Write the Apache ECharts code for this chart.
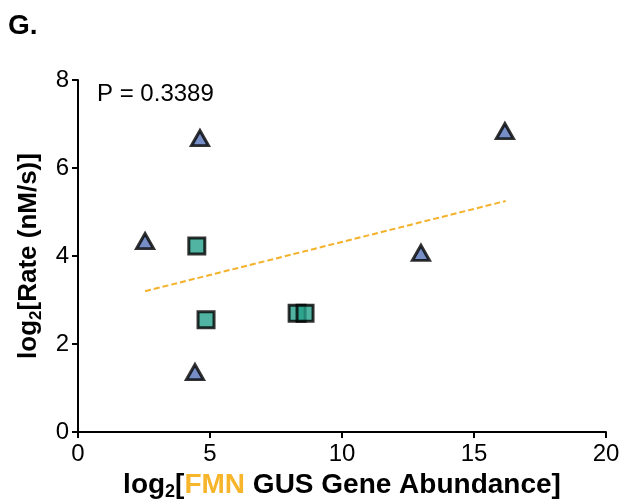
<!DOCTYPE html>
<html>
<head>
<meta charset="utf-8">
<script src="https://cdn.jsdelivr.net/npm/echarts@6/dist/echarts.min.js"></script>
<style>
  html, body { margin: 0; padding: 0; background: #fff; }
  #chart { width: 626px; height: 502px; }
</style>
</head>
<body>
<div id="chart"></div>
<script>
// values (log2 scale)
var triangleX = [2.54, 4.62, 4.43, 12.99, 16.17];
var triangleY = [4.34, 6.68, 1.36, 4.07, 6.84];
var squareX = [4.5, 4.85, 8.3, 8.6];
var squareY = [4.23, 2.55, 2.7, 2.7];
// regression line ends
var fitX = [2.54, 16.2];
var fitY = [3.2, 5.25];
var xTicks = [0, 5, 10, 15, 20];
var yTicks = [0, 2, 4, 6, 8];
var pLabel = 'P = 0.3389';

function pairs(xs, ys) {
    var out = [];
    for (var i = 0; i < xs.length; i++) {
        out.push([xs[i], ys[i]]);
    }
    return out;
}

var font = '"Liberation Sans", Arial, sans-serif';
var chart = echarts.init(document.getElementById('chart'), null, {renderer: 'canvas'});

chart.setOption({
    animation: false,
    grid: {left: 78, right: 20, top: 80, bottom: 70, outerBoundsMode: 'none', containLabel: false},
    xAxis: {
        type: 'value',
        min: xTicks[0],
        max: xTicks[xTicks.length - 1],
        interval: 5,
        splitLine: {show: false},
        axisLine: {lineStyle: {color: '#000', width: 2}},
        axisTick: {length: 6, lineStyle: {color: '#000', width: 2}},
        axisLabel: {color: '#000', fontSize: 24, fontFamily: font, margin: 10},
        name: '{b|log}{sub|2}{b|[}{o|FMN}{b| GUS Gene Abundance]}',
        nameLocation: 'middle',
        nameGap: 36,
        nameTextStyle: {
            rich: {
                b: {fontSize: 28, fontWeight: 'bold', color: '#000', fontFamily: font},
                o: {fontSize: 28, fontWeight: 'bold', color: '#f7b52c', fontFamily: font},
                sub: {fontSize: 18, fontWeight: 'bold', color: '#000', fontFamily: font, padding: [15, 0, 0, 0]}
            }
        }
    },
    yAxis: {
        type: 'value',
        min: yTicks[0],
        max: yTicks[yTicks.length - 1],
        interval: 2,
        splitLine: {show: false},
        axisLine: {lineStyle: {color: '#000', width: 2}},
        axisTick: {length: 6, lineStyle: {color: '#000', width: 2}},
        axisLabel: {color: '#000', fontSize: 24, fontFamily: font, margin: 9},
        name: '{b|log}{sub|2}{b|[Rate (nM/s)]}',
        nameLocation: 'middle',
        nameGap: 33,
        nameTextStyle: {
            rich: {
                b: {fontSize: 26, fontWeight: 'bold', color: '#000', fontFamily: font},
                sub: {fontSize: 17, fontWeight: 'bold', color: '#000', fontFamily: font, padding: [14, 0, 0, 0]}
            }
        }
    },
    graphic: [
        {type: 'text', left: 8, top: 12, style: {text: 'G.', fontSize: 28, fontWeight: 'bold', fill: '#000', fontFamily: font}},
        {type: 'text', left: 97, top: 82, style: {text: pLabel, fontSize: 24, fill: '#000', fontFamily: font}}
    ],
    series: [
        {
            type: 'line',
            data: pairs(fitX, fitY),
            symbol: 'none',
            lineStyle: {color: '#f4b12a', width: 2, type: [6, 3]},
            z: 1
        },
        {
            type: 'scatter',
            data: pairs(triangleX, triangleY),
            symbol: 'triangle',
            symbolSize: [17, 15],
            itemStyle: {color: '#5472b6', borderColor: '#000', borderWidth: 3},
            z: 3
        },
        {
            type: 'scatter',
            data: pairs(squareX, squareY),
            symbol: 'rect',
            symbolSize: 16,
            itemStyle: {color: '#26a08a', borderColor: '#000', borderWidth: 3},
            z: 3
        }
    ]
});
</script>
</body>
</html>
